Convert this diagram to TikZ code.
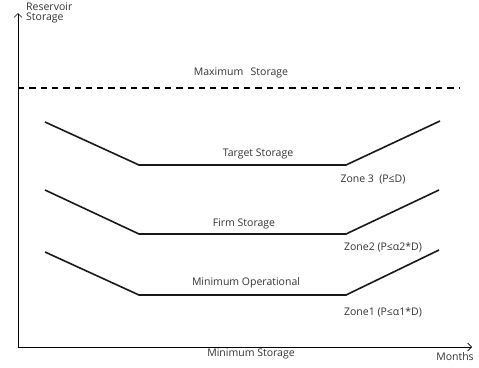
\documentclass[tikz,border=0pt]{standalone}
\usepackage{fontspec}
\setmainfont{Open Sans}
\usetikzlibrary{arrows.meta}
\begin{document}
\begin{tikzpicture}[x=1pt,y=-1pt,
  lbl/.style={font=\fontsize{10.5}{12}\selectfont, text=black!80, inner sep=0pt},
  curve/.style={line width=1.6pt, black!90},
  axis/.style={line width=0.7pt, -{Straight Barb[length=4pt,width=8pt]}}]
\useasboundingbox (0,0) rectangle (479,367);
% axes
\coordinate (O) at (18,347);
\coordinate (Ytop) at (18,13);
\coordinate (Xend) at (472,347);
\draw[axis] (O) -- (Ytop);
\draw[axis] (O) -- (Xend);
% max storage
\coordinate (m1) at (18,88);
\coordinate (m2) at (459,88);
\draw[line width=1.4pt, dash pattern=on 6.3pt off 5pt] (m1) -- (m2);
% target
\coordinate (t1) at (45,122); \coordinate (t2) at (139,165);
\coordinate (t3) at (346,165); \coordinate (t4) at (440,121);
\draw[curve] (t1) -- (t2) -- (t3) -- (t4);
% firm
\coordinate (f1) at (45,190); \coordinate (f2) at (139,234);
\coordinate (f3) at (346,234); \coordinate (f4) at (439,190);
\draw[curve] (f1) -- (f2) -- (f3) -- (f4);
% min op
\coordinate (n1) at (45,252); \coordinate (n2) at (139,295);
\coordinate (n3) at (346,295); \coordinate (n4) at (439,250);
\draw[curve] (n1) -- (n2) -- (n3) -- (n4);
% labels
\node[lbl, anchor=north west, align=left] (ylab) at (26,3) {Reservoir\\[-2pt]Storage};
\node[lbl] (maxl) at (241,73) {Maximum\hspace{0.7em}Storage};
\node[lbl] (targ) at (258,154) {Target Storage};
\node[lbl] (z3) at (373,180) {Zone 3\hspace{0.25em} (P≤D)};
\node[lbl] (firm) at (244,224) {Firm Storage};
\node[lbl] (z2) at (383,247) {Zone2 (P≤α2*D)};
\node[lbl] (minop) at (246,283) {Minimum Operational};
\node[lbl] (z1) at (383,312) {Zone1 (P≤α1*D)};
\node[lbl] (mins) at (251,354) {Minimum Storage};
\node[lbl] (months) at (455,357) {Months};
\end{tikzpicture}
\end{document}
